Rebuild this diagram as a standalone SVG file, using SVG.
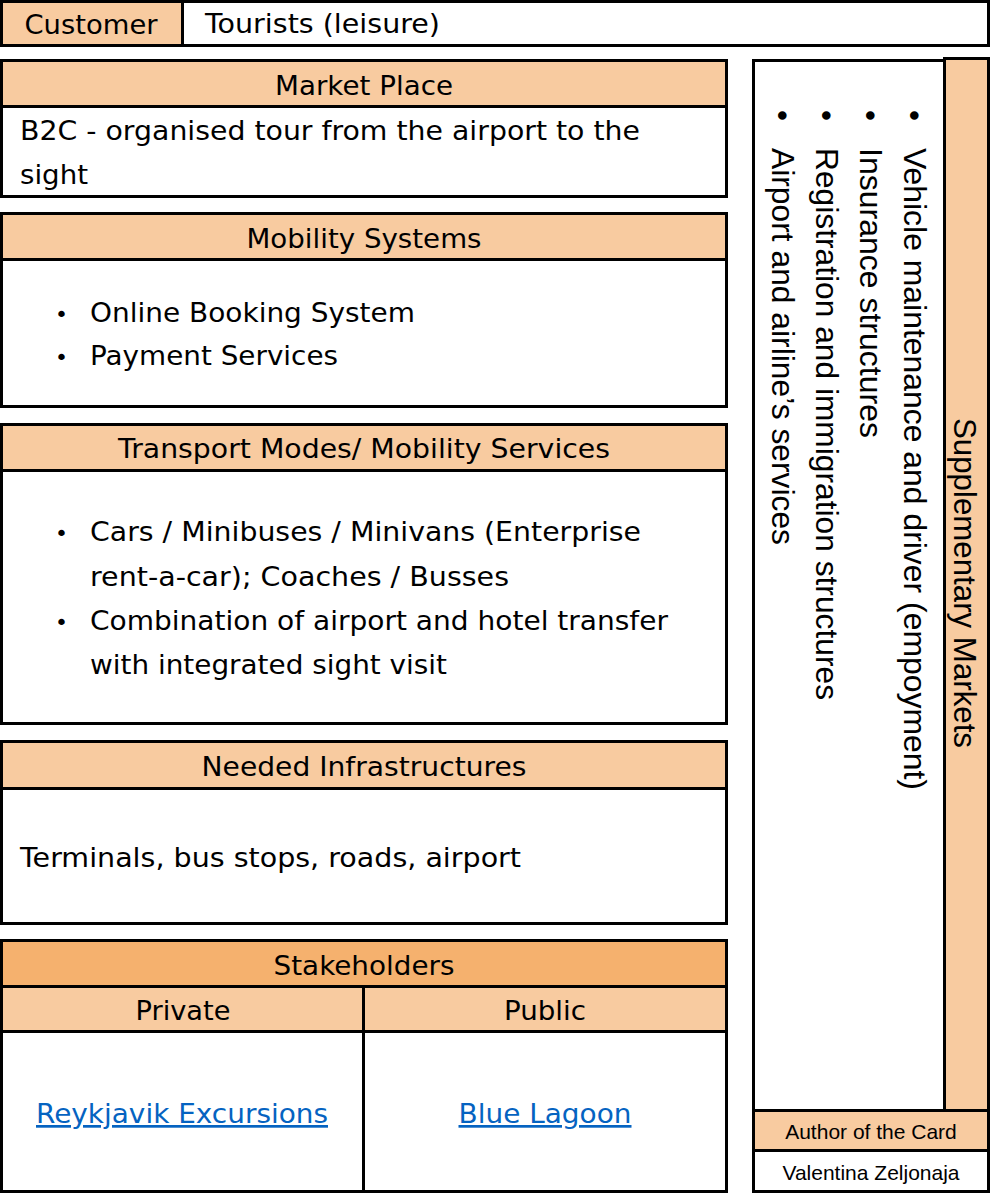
<svg xmlns="http://www.w3.org/2000/svg" width="990" height="1196" viewBox="0 0 990 1196">
<style>
.o{fill:#F8CBA0;stroke:#000;stroke-width:3}
.d{fill:#F5B16E;stroke:#000;stroke-width:3}
.w{fill:#fff;stroke:#000;stroke-width:3}
.t{font-family:"DejaVu Sans",Verdana,sans-serif;font-size:27px;fill:#000}
.c{text-anchor:middle}
.a{font-family:"Liberation Sans",Arial,sans-serif;font-size:31px;fill:#000}
.s{font-family:"Liberation Sans",Arial,sans-serif;fill:#000;text-anchor:middle}
.l{fill:#0563C1;text-decoration:underline}
.b{font-family:"DejaVu Sans",sans-serif;font-size:22px;fill:#000}
</style>
<rect width="990" height="1196" fill="#fff"/>
<g id="customer">
<rect class="o" x="1.5" y="1.5" width="181" height="44"/>
<rect class="w" x="182.5" y="1.5" width="806" height="44"/>
<text class="t c" x="91" y="34" textLength="133" lengthAdjust="spacingAndGlyphs">Customer</text>
<text class="t" x="205" y="33" textLength="235" lengthAdjust="spacingAndGlyphs">Tourists (leisure)</text>
</g>
<g id="market-place">
<rect class="o" x="1.5" y="60.5" width="725" height="46"/>
<rect class="w" x="1.5" y="106.5" width="725" height="90"/>
<text class="t c" x="364" y="95" textLength="178" lengthAdjust="spacingAndGlyphs">Market Place</text>
<text class="t" x="20" y="140" textLength="620" lengthAdjust="spacingAndGlyphs">B2C - organised tour from the airport to the</text>
<text class="t" x="20" y="184" textLength="68" lengthAdjust="spacingAndGlyphs">sight</text>
</g>
<g id="mobility-systems">
<rect class="o" x="1.5" y="213.5" width="725" height="46"/>
<rect class="w" x="1.5" y="259.5" width="725" height="147"/>
<text class="t c" x="364" y="248" textLength="235" lengthAdjust="spacingAndGlyphs">Mobility Systems</text>
<text class="b" x="55" y="322">•</text>
<text class="t" x="90" y="322" textLength="325" lengthAdjust="spacingAndGlyphs">Online Booking System</text>
<text class="b" x="55" y="365">•</text>
<text class="t" x="90" y="365" textLength="248" lengthAdjust="spacingAndGlyphs">Payment Services</text>
</g>
<g id="transport-modes">
<rect class="o" x="1.5" y="424.5" width="725" height="46"/>
<rect class="w" x="1.5" y="470.5" width="725" height="253"/>
<text class="t c" x="364" y="458" textLength="492" lengthAdjust="spacingAndGlyphs">Transport Modes/ Mobility Services</text>
<text class="b" x="55" y="541">•</text>
<text class="t" x="90" y="541" textLength="551" lengthAdjust="spacingAndGlyphs">Cars / Minibuses / Minivans (Enterprise</text>
<text class="t" x="90" y="586" textLength="419" lengthAdjust="spacingAndGlyphs">rent-a-car); Coaches / Busses</text>
<text class="b" x="55" y="630">•</text>
<text class="t" x="90" y="630" textLength="578" lengthAdjust="spacingAndGlyphs">Combination of airport and hotel transfer</text>
<text class="t" x="90" y="674" textLength="357" lengthAdjust="spacingAndGlyphs">with integrated sight visit</text>
</g>
<g id="needed-infrastructures">
<rect class="o" x="1.5" y="741.5" width="725" height="47"/>
<rect class="w" x="1.5" y="788.5" width="725" height="135"/>
<text class="t c" x="364" y="776" textLength="325" lengthAdjust="spacingAndGlyphs">Needed Infrastructures</text>
<text class="t" x="20" y="867" textLength="501" lengthAdjust="spacingAndGlyphs">Terminals, bus stops, roads, airport</text>
</g>
<g id="stakeholders">
<rect class="d" x="1.5" y="940.5" width="725" height="46"/>
<rect class="o" x="1.5" y="986.5" width="362" height="45"/>
<rect class="o" x="363.5" y="986.5" width="363" height="45"/>
<rect class="w" x="1.5" y="1031.5" width="362" height="160"/>
<rect class="w" x="363.5" y="1031.5" width="363" height="160"/>
<text class="t c" x="364" y="975" textLength="181" lengthAdjust="spacingAndGlyphs">Stakeholders</text>
<text class="t c" x="183" y="1020" textLength="95" lengthAdjust="spacingAndGlyphs">Private</text>
<text class="t c" x="545" y="1020" textLength="82" lengthAdjust="spacingAndGlyphs">Public</text>
<text class="t c l" x="182" y="1123" textLength="292" lengthAdjust="spacingAndGlyphs">Reykjavik Excursions</text>
<text class="t c l" x="545" y="1123" textLength="173" lengthAdjust="spacingAndGlyphs">Blue Lagoon</text>
</g>
<g id="supplementary-markets">
<rect class="w" x="753.5" y="60.5" width="191" height="1050"/>
<rect class="o" x="944.5" y="58.5" width="44" height="1052"/>
<text class="a c" transform="translate(954,583) rotate(90)" textLength="330" lengthAdjust="spacingAndGlyphs">Supplementary Markets</text>
<g class="a">
<text transform="translate(904,110) rotate(90)">•</text>
<text transform="translate(904,148) rotate(90)" textLength="642" lengthAdjust="spacingAndGlyphs">Vehicle maintenance and driver (empoyment)</text>
<text transform="translate(860,110) rotate(90)">•</text>
<text transform="translate(860,148) rotate(90)" textLength="290" lengthAdjust="spacingAndGlyphs">Insurance structures</text>
<text transform="translate(816,110) rotate(90)">•</text>
<text transform="translate(816,148) rotate(90)" textLength="552" lengthAdjust="spacingAndGlyphs">Registration and immigration structures</text>
<text transform="translate(772,110) rotate(90)">•</text>
<text transform="translate(772,148) rotate(90)" textLength="397" lengthAdjust="spacingAndGlyphs">Airport and airline’s services</text>
</g>
</g>
<g id="author">
<rect class="o" x="753.5" y="1110.5" width="235" height="40"/>
<rect class="w" x="753.5" y="1150.5" width="235" height="41"/>
<text class="s" x="871" y="1139" font-size="21">Author of the Card</text>
<text class="s" x="871" y="1180" font-size="21">Valentina Zeljonaja</text>
</g>
<g id="connectors"/>
</svg>
